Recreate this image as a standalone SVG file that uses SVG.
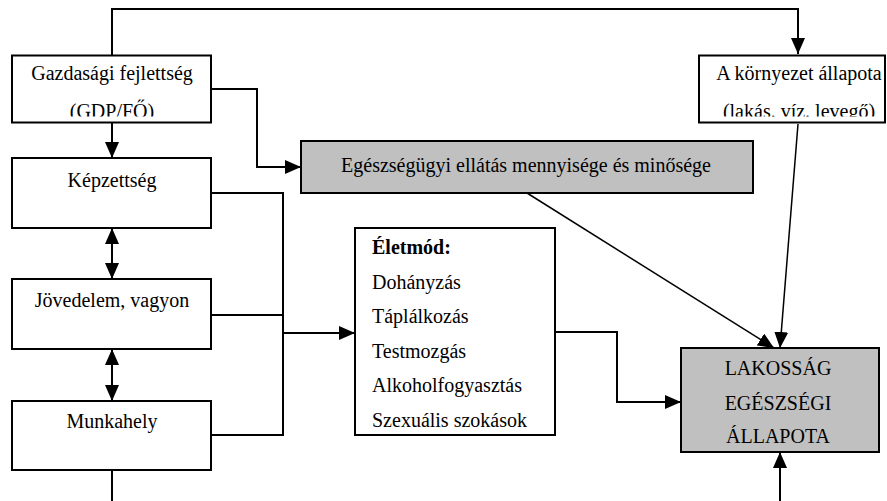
<svg xmlns="http://www.w3.org/2000/svg" width="887" height="501" viewBox="0 0 887 501">
<style>
.box{fill:#fff;stroke:#000;stroke-width:2}
.gray{fill:#c0c0c0;stroke:#000;stroke-width:2}
text{font-family:"Liberation Serif","Times New Roman",serif;font-size:20px;fill:#000}
.c{text-anchor:middle}
.b{font-weight:bold}
.ln{fill:none;stroke:#000;stroke-width:2}
.thin{fill:none;stroke:#000;stroke-width:1.5}
</style>
<defs>
<marker id="ah" markerUnits="userSpaceOnUse" markerWidth="16" markerHeight="14" refX="16" refY="7" orient="auto">
<path d="M0,0 L16,7 L0,14 Z" fill="#000"/>
</marker>
<marker id="as" markerUnits="userSpaceOnUse" markerWidth="16" markerHeight="14" refX="0" refY="7" orient="auto">
<path d="M16,0 L0,7 L16,14 Z" fill="#000"/>
</marker>
<clipPath id="cg"><rect x="13" y="56" width="197" height="60.5"/></clipPath>
<clipPath id="ck"><rect x="700" y="56" width="185" height="60.5"/></clipPath>
</defs>
<g id="connectors">
<path class="ln" d="M112,55 L112,9 L798,9 L798,54" marker-end="url(#ah)"/>
<path class="ln" d="M112,123 L112,158" marker-end="url(#ah)"/>
<path class="ln" d="M211,89 L257,89 L257,167 L301,167" marker-end="url(#ah)"/>
<path class="ln" d="M112,228 L112,279" marker-start="url(#as)" marker-end="url(#ah)"/>
<path class="ln" d="M112,349 L112,401" marker-start="url(#as)" marker-end="url(#ah)"/>
<path class="ln" d="M112,470 L112,501"/>
<path class="ln" d="M211,193 L283,193 L283,435 L211,435"/>
<path class="ln" d="M211,315 L283,315"/>
<path class="ln" d="M283,333 L355,333" marker-end="url(#ah)"/>
<path class="ln" d="M555,332 L617,332 L617,402 L681,402" marker-end="url(#ah)"/>
<path class="thin" d="M527,193 L774,348" marker-end="url(#ah)"/>
<path class="thin" d="M798,124 L780,348" marker-end="url(#ah)"/>
<path class="ln" d="M780,501 L780,452" marker-end="url(#ah)"/>
</g>
<g id="gazdasagi">
<rect class="box" x="12" y="55.5" width="199" height="67"/>
<g clip-path="url(#cg)">
<text class="c" x="112" y="80">Gazdasági fejlettség</text>
<text class="c" x="112" y="118">(GDP/FŐ)</text>
</g>
</g>
<g id="kornyezet">
<rect class="box" x="699" y="55.5" width="186" height="67"/>
<g clip-path="url(#ck)">
<text class="c" x="799" y="80">A környezet állapota</text>
<text class="c" x="799" y="118">(lakás. víz. levegő)</text>
</g>
</g>
<g id="kepzettseg">
<rect class="box" x="12" y="158" width="199" height="70"/>
<text class="c" x="112" y="187">Képzettség</text>
</g>
<g id="jovedelem">
<rect class="box" x="12" y="279" width="199" height="70"/>
<text class="c" x="112" y="307">Jövedelem, vagyon</text>
</g>
<g id="munkahely">
<rect class="box" x="12" y="401" width="199" height="69"/>
<text class="c" x="112" y="428">Munkahely</text>
</g>
<g id="ellatas">
<rect class="gray" x="301" y="141" width="452" height="52"/>
<text class="c" x="526" y="172">Egészségügyi ellátás mennyisége és minősége</text>
</g>
<g id="eletmod">
<rect class="box" x="355" y="228" width="200" height="207"/>
<text class="b" x="372" y="254">Életmód:</text>
<text x="372" y="289">Dohányzás</text>
<text x="372" y="323">Táplálkozás</text>
<text x="372" y="358">Testmozgás</text>
<text x="372" y="392">Alkoholfogyasztás</text>
<text x="372" y="427">Szexuális szokások</text>
</g>
<g id="lakossag">
<rect class="gray" x="681" y="348" width="198" height="104"/>
<text class="c" x="778" y="375">LAKOSSÁG</text>
<text class="c" x="778" y="410">EGÉSZSÉGI</text>
<text class="c" x="778" y="443">ÁLLAPOTA</text>
</g>
</svg>
